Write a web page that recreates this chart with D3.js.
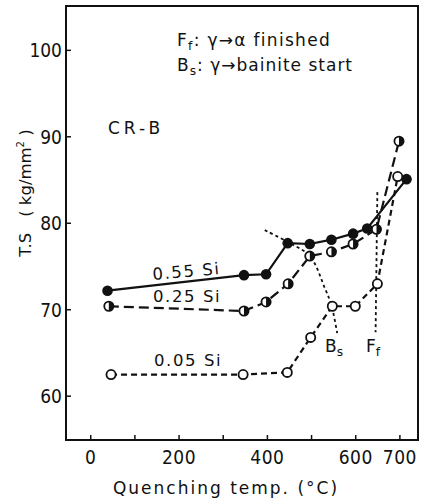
<!DOCTYPE html>
<html>
<head>
<meta charset="utf-8">
<script src="https://cdn.jsdelivr.net/npm/d3@7"></script>
<style>
  html, body { margin: 0; padding: 0; background: #fff; }
  svg { display: block; }
  text { font-family: "DejaVu Sans", sans-serif; fill: #111; }
  .tick-label { font-family: "Liberation Sans Narrow", "DejaVu Sans Condensed", sans-serif; font-size: 19px; }
</style>
</head>
<body>
<div id="chart"></div>
<script>
// Tensile strength vs quenching temperature, CR-B steel
const si55Temp = [38, 347, 397, 446, 496, 545, 594, 626, 715];
const si55TS   = [72.2, 74.0, 74.1, 77.7, 77.6, 78.1, 78.8, 79.4, 85.1];
const si25Temp = [41, 347, 397, 447, 496, 545, 594, 647, 698];
const si25TS   = [70.4, 69.85, 70.9, 73.0, 76.2, 76.7, 77.6, 79.3, 89.5];
const si05Temp = [46, 345, 445, 498, 547, 599, 649, 695];
const si05TS   = [62.5, 62.5, 62.75, 66.8, 70.4, 70.4, 73.0, 85.4];
// B_s boundary (dotted curve) and F_f boundary (dotted vertical)
const bsTemp = [394, 447, 496, 530, 545, 558];
const bsTS   = [79.2, 77.8, 76.2, 72.5, 70.5, 67.3];
const ffTemp = [649, 645];
const ffTS   = [83.6, 67.4];

const xTicks = [0, 100, 200, 300, 400, 500, 600, 700];
const xTickLabels = [0, 200, 400, 600, 700];
const yTicks = [60, 70, 80, 90, 100];

const W = 422, H = 502;
const mLeft = 66, mRight = 418, mTop = 6, mBottom = 440;

const svg = d3.select('#chart').append('svg')
  .attr('width', W)
  .attr('height', H);

const x = d3.scaleLinear().domain([-56, 741]).range([mLeft, mRight]);
const y = d3.scaleLinear().domain([54.93, 105.13]).range([mBottom, mTop]);

// frame
svg.append('rect')
  .attr('x', mLeft).attr('y', mTop)
  .attr('width', mRight - mLeft).attr('height', mBottom - mTop)
  .attr('fill', 'none').attr('stroke', '#111').attr('stroke-width', 2);

// ticks (inside)
svg.append('g').selectAll('line').data(xTicks).join('line')
  .attr('x1', d => x(d)).attr('x2', d => x(d))
  .attr('y1', mBottom).attr('y2', mBottom - 5)
  .attr('stroke', '#111').attr('stroke-width', 1.5);
svg.append('g').selectAll('text').data(xTickLabels).join('text')
  .attr('class', 'tick-label')
  .attr('x', d => x(d)).attr('y', 464)
  .attr('text-anchor', 'middle')
  .attr('letter-spacing', '0.5px')
  .text(d => d);

svg.append('g').selectAll('line').data(yTicks).join('line')
  .attr('x1', mLeft).attr('x2', mLeft + 5)
  .attr('y1', d => y(d)).attr('y2', d => y(d))
  .attr('stroke', '#111').attr('stroke-width', 1.5);
svg.append('g').selectAll('text').data(yTicks).join('text')
  .attr('class', 'tick-label')
  .attr('x', 62).attr('y', d => y(d) + 7)
  .attr('text-anchor', 'end')
  .text(d => d);

// axis titles
svg.append('text')
  .attr('x', 226).attr('y', 494)
  .attr('text-anchor', 'middle')
  .attr('font-size', '17px')
  .attr('letter-spacing', '2px')
  .text('Quenching temp. (°C)');

const yt = svg.append('text')
  .attr('transform', 'translate(31,193) rotate(-90)')
  .attr('text-anchor', 'middle')
  .attr('font-size', '16.5px');
yt.append('tspan').text('T.S');
yt.append('tspan').attr('dx', 16).text('( kg/mm');
yt.append('tspan').attr('font-size', '10px').attr('dy', -7).text('2');
yt.append('tspan').attr('dy', 7).text(' )');

// series lines
const line = d3.line().x(d => x(d[0])).y(d => y(d[1]));
const zip = (a, b) => a.map((v, i) => [v, b[i]]);

svg.append('path')
  .attr('d', line.curve(d3.curveCatmullRom)(zip(bsTemp, bsTS)))
  .attr('fill', 'none').attr('stroke', '#111').attr('stroke-width', 1.8)
  .attr('stroke-dasharray', '3,3');
line.curve(d3.curveLinear);
svg.append('path')
  .attr('d', line(zip(ffTemp, ffTS)))
  .attr('fill', 'none').attr('stroke', '#111').attr('stroke-width', 1.8)
  .attr('stroke-dasharray', '3,3');

const series = [
  { xs: si55Temp, ys: si55TS, dash: null, mark: 'filled' },
  { xs: si25Temp, ys: si25TS, dash: '10,5', mark: 'half' },
  { xs: si05Temp, ys: si05TS, dash: '6,4', mark: 'open' }
];

series.forEach(s => {
  svg.append('path')
    .attr('d', line(zip(s.xs, s.ys)))
    .attr('fill', 'none').attr('stroke', '#111').attr('stroke-width', 2.2)
    .attr('stroke-dasharray', s.dash);
});

series.forEach(s => {
  const g = svg.append('g');
  zip(s.xs, s.ys).forEach(([tx, ts]) => {
    const cx = x(tx), cy = y(ts);
    if (s.mark === 'filled') {
      g.append('circle').attr('cx', cx).attr('cy', cy).attr('r', 5.3).attr('fill', '#111');
    } else {
      g.append('circle').attr('cx', cx).attr('cy', cy).attr('r', 4.6)
        .attr('fill', '#fff').attr('stroke', '#111').attr('stroke-width', 1.8);
      if (s.mark === 'half') {
        g.append('path')
          .attr('d', `M${cx},${cy - 4.6} A4.6,4.6 0 0 1 ${cx},${cy + 4.6} Z`)
          .attr('fill', '#111');
      }
    }
  });
});

// labels
svg.append('text').attr('transform', 'translate(153,280) rotate(-5)')
  .attr('font-size', '16.5px').attr('letter-spacing', '1.6px').text('0.55 Si');
svg.append('text').attr('x', 153).attr('y', 302)
  .attr('font-size', '16.5px').attr('letter-spacing', '1.6px').text('0.25 Si');
svg.append('text').attr('x', 154).attr('y', 366)
  .attr('font-size', '16.5px').attr('letter-spacing', '1.6px').text('0.05 Si');

svg.append('text').attr('x', 108).attr('y', 134)
  .attr('font-size', '17px').attr('letter-spacing', '4px').text('CR-B');

function subLabel(px, py, main, sub, rest, size) {
  const t = svg.append('text').attr('x', px).attr('y', py).attr('font-size', size + 'px');
  t.append('tspan').text(main);
  t.append('tspan').attr('font-size', (size * 0.72) + 'px').attr('dy', 4).text(sub);
  if (rest) t.append('tspan').attr('dy', -4).text(rest);
  return t;
}

subLabel(177, 46, 'F', 'f', ': γ→α  finished', 17).attr('letter-spacing', '1.3px');
subLabel(177, 71, 'B', 's', ': γ→bainite start', 17).attr('letter-spacing', '1px');
subLabel(325, 352, 'B', 's', null, 17);
subLabel(366, 352, 'F', 'f', null, 17);
</script>
</body>
</html>
